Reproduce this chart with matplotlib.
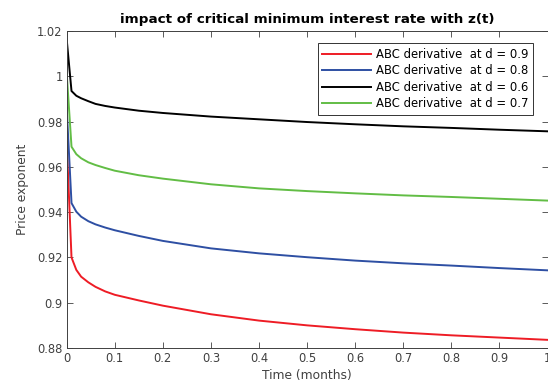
import matplotlib
matplotlib.use("Agg")
import matplotlib.pyplot as plt

# time grid (months) and price exponent for each fractional order d
t = [0, 0.01, 0.02, 0.03, 0.045, 0.06, 0.08, 0.1, 0.15, 0.2, 0.3, 0.4, 0.5, 0.6, 0.7, 0.8, 0.9, 1.0]
d09 = [0.971, 0.920, 0.9145, 0.9115, 0.909, 0.907, 0.905, 0.9035, 0.901, 0.8987, 0.8949,
       0.8921, 0.8900, 0.8883, 0.8868, 0.8856, 0.8846, 0.8836]
d08 = [0.986, 0.944, 0.9402, 0.938, 0.936, 0.9346, 0.9332, 0.9320, 0.9295, 0.9273, 0.9240,
       0.9218, 0.9201, 0.9186, 0.9174, 0.9164, 0.9153, 0.9143]
d06 = [1.0163, 0.9935, 0.9914, 0.9903, 0.989, 0.9878, 0.9869, 0.9862, 0.9848, 0.9838, 0.9822,
       0.9810, 0.9798, 0.9788, 0.9779, 0.9772, 0.9764, 0.9757]
d07 = [1.0013, 0.9689, 0.9656, 0.9638, 0.962, 0.9608, 0.9595, 0.9583, 0.9563, 0.9548, 0.9523,
       0.9505, 0.9493, 0.9483, 0.9474, 0.9467, 0.9459, 0.9451]

xticks = [0, 0.1, 0.2, 0.3, 0.4, 0.5, 0.6, 0.7, 0.8, 0.9, 1]
xticklabels = ['0', '0.1', '0.2', '0.3', '0.4', '0.5', '0.6', '0.7', '0.8', '0.9', '1']
yticks = [0.88, 0.9, 0.92, 0.94, 0.96, 0.98, 1, 1.02]
yticklabels = ['0.88', '0.9', '0.92', '0.94', '0.96', '0.98', '1', '1.02']

plt.rcParams['font.family'] = ['DejaVu Sans']

fig = plt.figure(figsize=(5.48, 3.87), dpi=100)
ax = fig.add_axes([66.7 / 548, 1 - 348 / 387, (547.5 - 66.7) / 548, (348 - 31) / 387])

lw = 1.4
ax.plot(t, d09, color='#ee1c25', lw=lw, label='ABC derivative  at d = 0.9')
ax.plot(t, d08, color='#2e4fa3', lw=lw, label='ABC derivative  at d = 0.8')
ax.plot(t, d06, color='black', lw=lw, label='ABC derivative  at d = 0.6')
ax.plot(t, d07, color='#62bd45', lw=lw, label='ABC derivative  at d = 0.7')

ax.set_xlim(0, 1)
ax.set_ylim(0.88, 1.02)
ax.set_xticks(xticks)
ax.set_xticklabels(xticklabels)
ax.set_yticks(yticks)
ax.set_yticklabels(yticklabels)

grey = '#404040'
ax.tick_params(direction='in', top=True, right=True, length=4, width=0.6,
               colors=grey, labelsize=8.3, labelcolor=grey, pad=3)
for s in ax.spines.values():
    s.set_color(grey)
    s.set_linewidth(0.7)

ax.set_title('impact of critical minimum interest rate with z(t)', fontsize=9.7,
             fontweight='bold', pad=6)
ax.set_xlabel('Time (months)', fontsize=8.8, color=grey, labelpad=3)
ax.set_ylabel('Price exponent', fontsize=8.8, color=grey, labelpad=6)

leg = ax.legend(loc='upper right', bbox_to_anchor=(533 / 548, 1 - 43 / 387),
                bbox_transform=fig.transFigure, borderaxespad=0, fontsize=8.4,
                handlelength=4.2, handletextpad=0.4, labelspacing=0.3,
                borderpad=0.4, fancybox=False, framealpha=1)
leg.get_frame().set_edgecolor('#333333')
leg.get_frame().set_linewidth(0.7)

fig.savefig('out.png', dpi=100)
